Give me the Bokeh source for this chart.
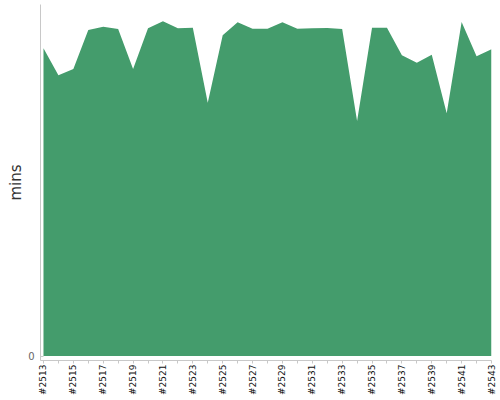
import math
from bokeh.plotting import figure
from bokeh.models import FixedTicker, Range1d
from bokeh.embed import file_html
from bokeh.resources import INLINE

builds = ["#%d" % b for b in range(2513, 2544)]
mins = [21.98, 20.05, 20.50, 23.29, 23.52, 23.36, 20.50, 23.41, 23.91, 23.41,
        23.45, 18.09, 22.91, 23.84, 23.38, 23.38, 23.84, 23.38, 23.41, 23.43,
        23.36, 16.79, 23.45, 23.45, 21.48, 20.95, 21.52, 17.34, 23.86, 21.41,
        21.91]
xs = list(range(len(builds)))

p = figure(width=500, height=400, output_backend="svg", toolbar_location=None,
           x_range=Range1d(-0.2, 30), y_range=Range1d(-0.321, 25.107),
           min_border_left=40, min_border_right=9, min_border_top=4,
           min_border_bottom=40)
p.outline_line_color = None
p.xgrid.visible = False
p.ygrid.visible = False

p.varea(x=xs, y1=0, y2=mins, fill_color="#449c6c")

xa = p.xaxis[0]
xa.ticker = FixedTicker(ticks=xs[::2], minor_ticks=xs[1::2])
xa.major_label_overrides = {i: builds[i] for i in xs[::2]}
xa.major_label_orientation = math.pi / 2
xa.major_label_text_font = "DejaVu Sans"
xa.major_label_text_font_size = "9px"
xa.major_label_text_color = "#111111"
xa.major_label_standoff = 1
xa.axis_line_color = "#c8c8c8"
xa.major_tick_line_color = "#c8c8c8"
xa.minor_tick_line_color = "#c8c8c8"
xa.major_tick_in = 0
xa.major_tick_out = 3
xa.minor_tick_in = 0
xa.minor_tick_out = 3

ya = p.yaxis[0]
ya.ticker = FixedTicker(ticks=[0])
ya.minor_tick_line_color = None
ya.axis_line_color = "#c8c8c8"
ya.major_tick_line_color = "#c8c8c8"
ya.major_tick_in = 3
ya.major_tick_out = 0
ya.major_label_text_font = "DejaVu Sans"
ya.major_label_text_font_size = "10px"
ya.major_label_text_color = "#666666"
ya.major_label_standoff = 6
ya.axis_label = "mins"
ya.axis_label_text_font = "DejaVu Sans"
ya.axis_label_text_font_size = "15px"
ya.axis_label_text_font_style = "normal"
ya.axis_label_text_color = "#333333"
ya.axis_label_standoff = 0

open("out.html", "w").write(file_html(p, INLINE))
